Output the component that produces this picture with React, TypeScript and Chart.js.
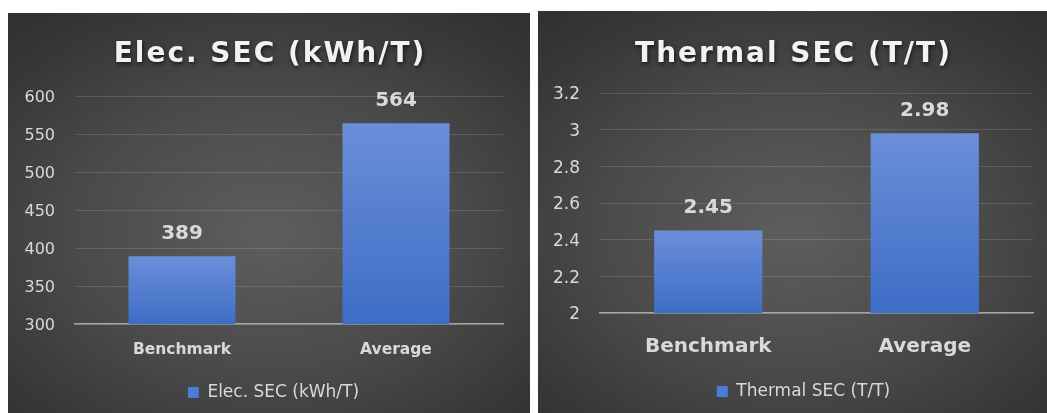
import React, { useEffect, useRef } from 'react';
import { Chart, registerables } from 'chart.js';

Chart.register(...registerables);

const categories = ['Benchmark', 'Average'];

const elecTitle = 'Elec. SEC (kWh/T)';
const elecSeriesName = 'Elec. SEC (kWh/T)';
const elecValues = [389, 564];
const elecValueLabels = ['389', '564'];
const elecAxisRange = [300, 600, 50];

const thermalTitle = 'Thermal SEC (T/T)';
const thermalSeriesName = 'Thermal SEC (T/T)';
const thermalValues = [2.45, 2.98];
const thermalValueLabels = ['2.45', '2.98'];
const thermalAxisRange = [2, 3.2, 0.2];

const FONT = '"DejaVu Sans", sans-serif';

type PanelProps = {
  title: string;
  series: string;
  values: number[];
  valueLabels: string[];
  range: number[];
  left: number;
  top: number;
  width: number;
  height: number;
  padTop: number;
  padRight: number;
  padBottom: number;
  yWidth: number;
  xHeight: number;
  xFont: number;
  xPad: number;
  yFont: number;
  valueFont: number;
  titleFont: number;
  titleY: number;
  legendFont: number;
  legendShift: number;
};

function Panel(p: PanelProps) {
  const ref = useRef<HTMLCanvasElement | null>(null);
  useEffect(() => {
    if (!ref.current) return;
    const deco = {
      id: 'deco',
      afterLayout(chart: any) {
        const lg = chart.legend;
        if (lg) {
          lg.left += p.legendShift;
          lg.right += p.legendShift;
        }
      },
      afterDatasetsDraw(chart: any) {
        const ctx = chart.ctx;
        const meta = chart.getDatasetMeta(0);
        ctx.save();
        ctx.fillStyle = '#d9d9d9';
        ctx.font = `bold ${p.valueFont}px ${FONT}`;
        ctx.textAlign = 'center';
        ctx.textBaseline = 'middle';
        meta.data.forEach((el: any, i: number) => {
          ctx.fillText(p.valueLabels[i], el.x, el.y - 23);
        });
        ctx.restore();
      },
      afterDraw(chart: any) {
        const ctx = chart.ctx;
        ctx.save();
        ctx.font = `bold ${p.titleFont}px ${FONT}`;
        (ctx as any).letterSpacing = '2px';
        ctx.textAlign = 'center';
        ctx.textBaseline = 'middle';
        ctx.shadowColor = 'rgba(0,0,0,0.65)';
        ctx.shadowBlur = 4;
        ctx.shadowOffsetX = 1;
        ctx.shadowOffsetY = 2;
        ctx.fillStyle = '#f2f2f2';
        ctx.fillText(p.title, chart.width / 2 + 1, p.titleY);
        ctx.restore();
      },
    };
    const chart = new Chart(ref.current, {
      type: 'bar',
      data: {
        labels: categories,
        datasets: [
          {
            label: p.series,
            data: p.values,
            backgroundColor: (c: any) => {
              const ch = c.chart;
              const ys = ch.scales && ch.scales.y;
              const ca = ch.chartArea;
              if (!ys || !ca || c.raw === undefined) return '#4a78cf';
              const topY = ys.getPixelForValue(c.raw);
              const g = ch.ctx.createLinearGradient(0, topY, 0, ca.bottom);
              g.addColorStop(0, '#6b8ed8');
              g.addColorStop(1, '#3e6dc6');
              return g;
            },
            borderWidth: 0,
            categoryPercentage: 1,
            barPercentage: 0.5,
          },
        ],
      },
      options: {
        animation: false,
        responsive: false,
        maintainAspectRatio: false,
        layout: { padding: { top: p.padTop, right: p.padRight, bottom: p.padBottom, left: 0 } },
        plugins: {
          tooltip: { enabled: false },
          title: { display: false },
          legend: {
            display: true,
            position: 'bottom',
            labels: {
              boxWidth: 11,
              boxHeight: 11,
              padding: 10,
              color: '#d9d9d9',
              font: { family: FONT, size: p.legendFont },
              generateLabels: (chart: any) =>
                chart.data.datasets.map((ds: any, i: number) => ({
                  text: ds.label,
                  fillStyle: '#4a7bd6',
                  strokeStyle: '#4a7bd6',
                  lineWidth: 0,
                  fontColor: '#d9d9d9',
                  hidden: false,
                  datasetIndex: i,
                })),
            },
          },
        },
        scales: {
          x: {
            grid: { display: false, drawTicks: false },
            border: { display: true, color: '#a6a6a6', width: 1.5 },
            ticks: {
              color: '#d9d9d9',
              padding: p.xPad,
              font: { family: FONT, size: p.xFont, weight: 'bold' },
            },
            afterFit: (s: any) => {
              s.height = p.xHeight;
            },
          },
          y: {
            min: p.range[0],
            max: p.range[1],
            grid: { color: 'rgba(255,255,255,0.13)', lineWidth: 1, drawTicks: false },
            border: { display: false },
            ticks: {
              stepSize: p.range[2],
              color: '#d9d9d9',
              padding: 20,
              labelOffset: 2,
              font: { family: FONT, size: p.yFont },
              callback: (v: any) => String(Number(Number(v).toFixed(2))),
            },
            afterFit: (s: any) => {
              s.width = p.yWidth;
            },
          },
        },
      },
      plugins: [deco],
    } as any);
    return () => chart.destroy();
  }, []);
  return (
    <div
      style={{
        position: 'absolute',
        left: p.left,
        top: p.top,
        width: p.width,
        height: p.height,
        background:
          'radial-gradient(ellipse 75% 70% at 50% 55%, #5e5e5e 0%, #4a4a4a 50%, #373737 85%, #313131 100%)',
      }}
    >
      <canvas ref={ref} width={p.width} height={p.height} style={{ display: 'block' }} />
    </div>
  );
}

export default function App() {
  return (
    <div style={{ position: 'absolute', left: 0, top: 0, width: 1047, height: 413, background: '#ffffff', overflow: 'hidden' }}>
      <Panel
        title={elecTitle}
        series={elecSeriesName}
        values={elecValues}
        valueLabels={elecValueLabels}
        range={elecAxisRange}
        left={8}
        top={13}
        width={522}
        height={400}
        padTop={83}
        padRight={27}
        padBottom={2}
        yWidth={67}
        xHeight={50}
        xFont={15.5}
        xPad={17}
        yFont={16}
        valueFont={20}
        titleFont={28}
        titleY={42}
        legendFont={17}
        legendShift={18}
      />
      <Panel
        title={thermalTitle}
        series={thermalSeriesName}
        values={thermalValues}
        valueLabels={thermalValueLabels}
        range={thermalAxisRange}
        left={538}
        top={11}
        width={509}
        height={402}
        padTop={82}
        padRight={14}
        padBottom={3}
        yWidth={62}
        xHeight={60}
        xFont={20}
        xPad={22}
        yFont={17}
        valueFont={20}
        titleFont={28}
        titleY={44}
        legendFont={17}
        legendShift={18}
      />
    </div>
  );
}
